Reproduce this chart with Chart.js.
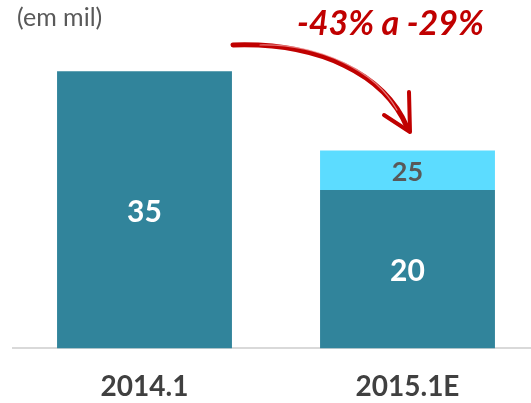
<!DOCTYPE html>
<html>
<head>
<meta charset="utf-8">
<script src="https://cdn.jsdelivr.net/npm/chart.js@4"></script>
<style>
  body { margin: 0; overflow: hidden; background: #fff; }
  #wrap { position: relative; width: 545px; height: 403px; overflow: hidden; }
  #unidade { position: absolute; left: 17px; top: 1px; font: 25px Lato, "Open Sans", sans-serif; color: #595959; line-height: 30px; }
  #variacao { position: absolute; left: 297px; top: 0px; font: italic bold 34px Lato, "Open Sans", sans-serif; color: #c00000; white-space: nowrap; line-height: 44px; }
</style>
</head>
<body>
<div id="wrap">
  <canvas id="grafico" width="545" height="431"></canvas>
  <div id="unidade">(em mil)</div>
  <div id="variacao">-43% a -29%</div>
</div>
<script>
const periodos = ["2014.1", "2015.1E"];
const valoresBase = [35, 20];
const faixaSuperior = [null, [20, 25]];
const corEscura = "#31849b";
const corClara = "#5cdcff";

// rotulos dentro das barras
const rotulos = {
    id: "rotulos",
    afterDatasetsDraw(chart) {
        const ctx = chart.ctx;
        ctx.save();
        ctx.textAlign = "center";
        ctx.textBaseline = "middle";
        chart.data.datasets.forEach((ds, i) => {
            chart.getDatasetMeta(i).data.forEach((bar, j) => {
                let v = ds.data[j];
                if (v === null) return;
                if (Array.isArray(v)) v = v[1];
                const meio = (bar.y + bar.base) / 2;
                if (i === 0) {
                    ctx.fillStyle = "#ffffff";
                    ctx.font = "bold 30px Lato, sans-serif";
                } else {
                    ctx.fillStyle = "#595959";
                    ctx.font = "bold 27px Lato, sans-serif";
                }
                ctx.fillText(v, bar.x, meio + 2);
            });
        });
        ctx.restore();
    }
};

// seta vermelha
const seta = {
    id: "seta",
    afterDraw(chart) {
        const ctx = chart.ctx;
        ctx.save();
        ctx.strokeStyle = "#c00000";
        ctx.lineCap = "round";
        ctx.lineJoin = "round";
        ctx.lineWidth = 5;
        ctx.beginPath();
        ctx.moveTo(233, 45);
        ctx.bezierCurveTo(320, 42, 385, 75, 407, 127);
        ctx.stroke();
        ctx.lineWidth = 4;
        ctx.beginPath();
        ctx.moveTo(409, 92);
        ctx.lineTo(410, 132);
        ctx.lineTo(384, 115);
        ctx.stroke();
        ctx.strokeStyle = "rgba(255,200,200,0.6)";
        ctx.lineWidth = 1.2;
        ctx.beginPath();
        ctx.moveTo(260, 45);
        ctx.bezierCurveTo(320, 44, 375, 70, 397, 110);
        ctx.stroke();
        ctx.restore();
    }
};

new Chart(document.getElementById("grafico"), {
    type: "bar",
    data: {
        labels: periodos,
        datasets: [
            { data: valoresBase, backgroundColor: corEscura },
            { data: faixaSuperior, backgroundColor: corClara }
        ]
    },
    options: {
        responsive: false,
        animation: false,
        events: [],
        layout: { padding: { left: 13, right: 6, top: 0, bottom: 5 } },
        datasets: { bar: { categoryPercentage: 1, barPercentage: 0.665 } },
        plugins: { legend: { display: false }, tooltip: { enabled: false } },
        scales: {
            x: {
                stacked: true,
                grid: { display: false, drawTicks: false },
                border: { color: "#d9d9d9", width: 2 },
                ticks: { color: "#404040", padding: 22, font: { family: "Lato", size: 28, weight: "bold" } }
            },
            y: {
                display: false,
                min: 0,
                max: 44
            }
        }
    },
    plugins: [rotulos, seta]
});
</script>
</body>
</html>
